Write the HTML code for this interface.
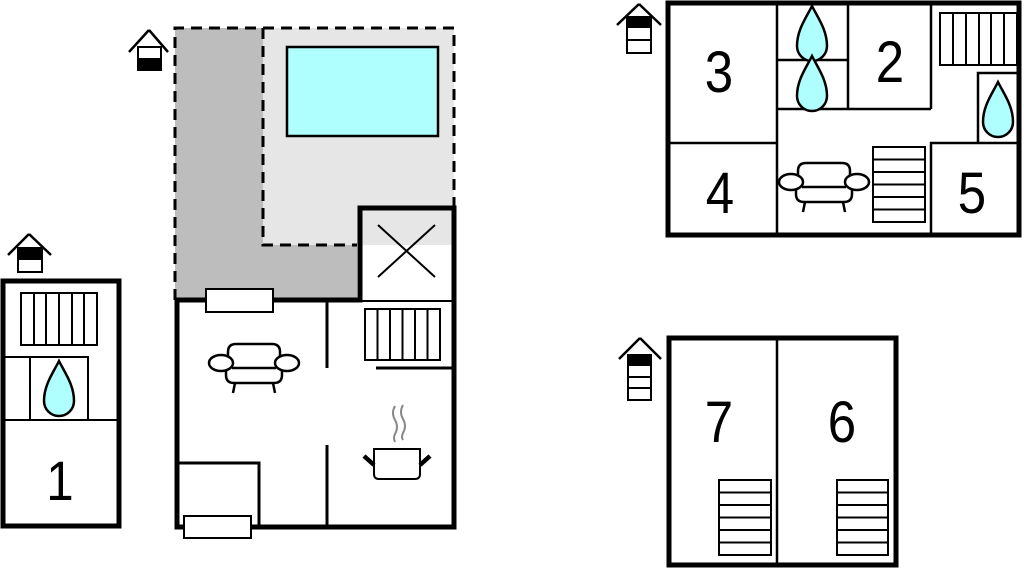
<!DOCTYPE html>
<html><head><meta charset="utf-8"><style>
html,body{margin:0;padding:0;background:#fff;width:1024px;height:568px;overflow:hidden}
svg{display:block}
text{font-family:"Liberation Sans",sans-serif;fill:#000}
</style></head><body>
<svg width="1024" height="568" viewBox="0 0 1024 568" xmlns="http://www.w3.org/2000/svg">
<defs>
<path id="drop" d="M0,-28 C-6,-16 -15,-4 -15,12 A15,15 0 0 0 15,12 C15,-4 6,-16 0,-28Z" fill="#b0ffff" stroke="#000" stroke-width="2.5"/>
<g id="sofa" fill="#fff" stroke="#000" stroke-width="2.5">
<path d="M-26,8 V-10 Q-26,-18 -18,-18 H18 Q26,-18 26,-10 V8"/>
<path d="M-28,6 V13 Q-28,21 -20,21 H20 Q28,21 28,13 V6"/>
<path d="M-22,6 H22" fill="none"/>
<ellipse cx="-33" cy="1" rx="12" ry="8"/>
<ellipse cx="33" cy="1" rx="12" ry="8"/>
<path d="M-19,21 L-21,31 M19,21 L21,31" fill="none"/>
</g>
</defs>

<!-- Plan 1 -->
<g stroke="#000" fill="none">
<path d="M29,234 L8,255 M29,234 L51,255" stroke-width="2.5"/>
<rect x="18" y="248" width="24" height="24" stroke-width="2" fill="#fff"/>
<rect x="18" y="248" width="24" height="12" fill="#000" stroke="none"/>
<rect x="3" y="281" width="116" height="245" stroke-width="5"/>
<rect x="21" y="293" width="76" height="52" stroke-width="2"/>
<path d="M34,293V345M46,293V345M59,293V345M72,293V345M84,293V345" stroke-width="2"/>
<path d="M5,357H88V420M30,357V420M5,420H119" stroke-width="2"/>
</g>
<use href="#drop" x="59" y="389"/>
<text x="60" y="500" font-size="56" text-anchor="middle" transform="translate(60 0) scale(0.88 1) translate(-60 0)">1</text>

<!-- Main plan -->
<rect x="175" y="28" width="182" height="272" fill="#bdbdbd"/>
<rect x="263" y="28" width="191" height="217" fill="#e6e6e6"/>
<path d="M175,300V28H454V208 M263,28V245H357" fill="none" stroke="#000" stroke-width="3" stroke-dasharray="11,7"/>
<rect x="287" y="47" width="151" height="89" fill="#b0ffff" stroke="#000" stroke-width="2.5"/>
<g stroke="#000" fill="none">
<path d="M149,30 L129,52 M149,30 L168,52" stroke-width="2.5"/>
<rect x="138" y="47" width="23" height="23" stroke-width="2" fill="#fff"/>
<rect x="138" y="58" width="23" height="12" fill="#000" stroke="none"/>
<path d="M177,300 V527 H454 V208 H360 V300 H175" stroke-width="5"/>
<path d="M378,225L435,277M435,225L378,277" stroke-width="2"/>
<path d="M360,301H454" stroke-width="2"/>
<path d="M327,300V368M327,445V527" stroke-width="3"/>
<rect x="365" y="309" width="75" height="51" stroke-width="2"/>
<path d="M377.5,309V360M390,309V360M402.5,309V360M415,309V360M427.5,309V360" stroke-width="2"/>
<path d="M376,368H454" stroke-width="3"/>
<path d="M178,463H259V527" stroke-width="3"/>
<rect x="206" y="289" width="67" height="23" fill="#fff" stroke-width="2"/>
<rect x="184" y="516" width="67" height="22" fill="#fff" stroke-width="2"/>
<path d="M374,449H420V474Q420,479 415,479H379Q374,479 374,474Z" fill="#fff" stroke-width="2"/>
<path d="M364,456L374,465M430,456L420,465" stroke-width="4.5"/>
<path d="M395,406 Q391,413 395,420 Q399,427 395,434 Q393,438 395,442 M403,405 Q399,412 403,419 Q407,426 403,433 Q401,437 403,440" stroke="#888" stroke-width="2"/>
</g>
<use href="#sofa" x="254" y="362"/>

<!-- Top right plan -->
<g stroke="#000" fill="none">
<path d="M639,4 L617,25 M639,4 L661,25" stroke-width="2.5"/>
<rect x="627" y="17" width="24" height="36" stroke-width="2" fill="#fff"/>
<rect x="627" y="17" width="24" height="11" fill="#000" stroke="none"/>
<path d="M627,40H651" stroke-width="2"/>
<rect x="668" y="3" width="351" height="232" stroke-width="5"/>
<path d="M777,3V235M668,143H777M777,60H848M777,109H931M848,3V109M931,3V109 M931,235V143H1019M978,143V73H1019" stroke-width="2.5"/>
<rect x="940" y="13" width="77" height="52" stroke-width="2"/>
<path d="M953,13V65M966,13V65M979,13V65M991,13V65M1004,13V65" stroke-width="2"/>
<rect x="873" y="147" width="52" height="75" stroke-width="2"/>
<path d="M873,159.5H925M873,172H925M873,184.5H925M873,197H925M873,209.5H925" stroke-width="2"/>
</g>
<use href="#drop" x="812" y="34"/>
<use href="#drop" x="812" y="84"/>
<use href="#drop" x="998" y="110"/>
<use href="#sofa" x="824" y="181"/>
<g font-size="58" text-anchor="middle">
<text x="719" y="92" transform="translate(719 0) scale(0.88 1) translate(-719 0)">3</text>
<text x="890" y="82" transform="translate(890 0) scale(0.88 1) translate(-890 0)">2</text>
<text x="720" y="213" transform="translate(720 0) scale(0.88 1) translate(-720 0)">4</text>
<text x="972" y="213" transform="translate(972 0) scale(0.88 1) translate(-972 0)">5</text>
<text x="719" y="442" transform="translate(719 0) scale(0.88 1) translate(-719 0)">7</text>
<text x="842" y="442" transform="translate(842 0) scale(0.88 1) translate(-842 0)">6</text>
</g>

<!-- Bottom right plan -->
<g stroke="#000" fill="none">
<path d="M640,338 L619,359 M640,338 L661,359" stroke-width="2.5"/>
<rect x="628" y="355" width="23" height="45" stroke-width="2" fill="#fff"/>
<rect x="628" y="355" width="23" height="11" fill="#000" stroke="none"/>
<path d="M628,377H651M628,388H651" stroke-width="2"/>
<rect x="669" y="338" width="227" height="227" stroke-width="5"/>
<path d="M777,338V565" stroke-width="2.5"/>
<rect x="719" y="480" width="52" height="75" stroke-width="2"/>
<path d="M719,492.5H771M719,505H771M719,517.5H771M719,530H771M719,542.5H771" stroke-width="2"/>
<rect x="837" y="480" width="51" height="75" stroke-width="2"/>
<path d="M837,492.5H888M837,505H888M837,517.5H888M837,530H888M837,542.5H888" stroke-width="2"/>
</g>
</svg>
</body></html>
